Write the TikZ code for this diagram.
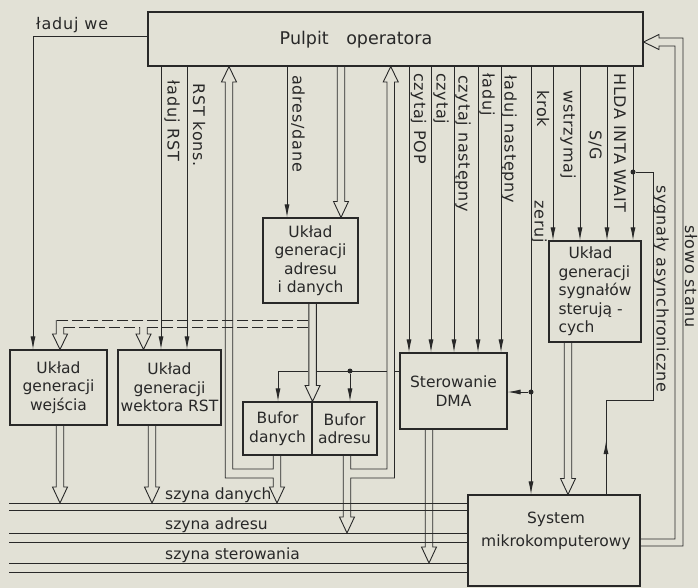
\documentclass[tikz,border=0pt]{standalone}
\usepackage{fontspec}
\setmainfont{DejaVu Sans}
\newfontfamily\spacedfont[LetterSpace=5]{DejaVu Sans}
\usetikzlibrary{arrows.meta,calc}

\definecolor{paper}{RGB}{226,225,214}
\definecolor{ink}{RGB}{40,40,40}

\tikzset{
  box/.style={draw=ink, line width=1.1pt, inner sep=0pt, align=center, text=ink,
    font=\fontsize{15.5}{18.5}\selectfont},
  wire/.style={draw=ink, line width=0.9pt},
  sig/.style={wire, -{Latex[length=13pt,width=5pt]}},
  bus/.style={draw=ink, line width=0.9pt, line join=miter},
  dbus/.style={bus, dash pattern=on 11pt off 4pt},
  lbl/.style={text=ink, inner sep=0pt, font=\fontsize{15.5}{18}\selectfont},
  vlbl/.style={text=ink, inner sep=0pt, rotate=-90, anchor=west,
    font=\spacedfont\fontsize{16}{18}\selectfont},
  dot/.style={circle, fill=ink, inner sep=0pt, minimum size=5pt},
}

% hollow bus arrow: start, tip, 1 = down / -1 = up
\newcommand\busv[3]{%
  \draw[bus] ($#1+(-3.75,0)$) -- ($#2+(-3.75,-16*#3)$) -- ++(-3.75,0) -- #2
    -- ++(7.5,-16*#3) -- ++(-3.75,0) -- ($#1+(3.75,0)$);}

\begin{document}
\begin{tikzpicture}[x=1pt, y=-1pt]
    \useasboundingbox (0,0) rectangle (698,588);
    \fill[paper] (0,0) rectangle (698,588);

    % blocks
    \node[box, minimum width=495pt, minimum height=54pt] (pulpit) at (395.5,39) {};
    \node[lbl, font=\fontsize{17.5}{20}\selectfont] (pulpittxt) at (356,40) {Pulpit\quad operatora};
    \node[box, minimum width=97pt, minimum height=75pt] (wej) at (58.5,387.5) {Układ\\generacji\\wejścia};
    \node[box, minimum width=103pt, minimum height=75pt] (rst) at (169.5,387.5) {Układ\\generacji\\wektora RST};
    \node[box, minimum width=95pt, minimum height=85pt] (gad) at (310.5,260.5) {Układ\\generacji\\adresu\\i danych};
    \node[box, minimum width=69pt, minimum height=53pt] (bufd) at (277.5,428.5) {Bufor\\danych};
    \node[box, minimum width=65pt, minimum height=53pt] (bufa) at (344.5,428.5) {Bufor\\adresu};
    \node[box, minimum width=107pt, minimum height=76pt] (dma) at (453.5,391) {Sterowanie\\DMA};
    \node[box, minimum width=92pt, minimum height=101pt, align=left] (gsy) at (595,291.5)
      {\hspace*{10pt}Układ\\generacji\\sygnałów\\sterują -\\cych};
    \node[box, minimum width=172pt, minimum height=91pt] (sys) at (554,540.5) {};
    \node[lbl, align=center, font=\fontsize{15.5}{23}\selectfont] (systxt) at (556,531) {System\\mikrokomputerowy};

    % buses
    \coordinate (busend) at (9,0);
    \foreach \y in {503,510,533,542,563,572}
      \draw[bus] (busend |- 0,\y) -- (sys.west |- 0,\y);
    \node[lbl, anchor=base west] (sdan) at (165,499) {szyna danych};
    \node[lbl, anchor=base west] (sadr) at (165,529) {szyna adresu};
    \node[lbl, anchor=base west] (sste) at (165,559) {szyna sterowania};

    % control lines from the desk
    \draw[sig] (pulpit.west |- 0,36) -| (wej.north -| 33,0);
    \node[lbl, anchor=base west, font=\spacedfont\fontsize{16}{18}\selectfont] (lwe) at (36,30) {ładuj we};
    \foreach \x in {161,187}
      \draw[sig] (pulpit.south -| \x,0) -- (rst.north -| \x,0);
    \draw[sig] (pulpit.south -| 287,0) -- (gad.north -| 287,0);
    \foreach \x in {409,431,454,478,501}
      \draw[sig] (pulpit.south -| \x,0) -- (dma.north -| \x,0);
    \foreach \x in {553,580,607,633}
      \draw[sig] (pulpit.south -| \x,0) -- (gsy.north -| \x,0);
    \draw[sig] (pulpit.south -| 531,0) -- (sys.north -| 531,0);
    \node[dot] (zdot) at (531,392) {};
    \draw[sig] (zdot) -- (dma.east |- zdot);

    \node[vlbl] (lrst) at (172,80) {ładuj RST};
    \node[vlbl] (lkons) at (199,83) {RST kons.};
    \node[vlbl] (ladr) at (298,75) {adres/dane};
    \node[vlbl] (lpop) at (418.5,73) {czytaj POP};
    \node[vlbl] (lczy) at (441,73) {czytaj};
    \node[vlbl] (lczn) at (463,75) {czytaj następny};
    \node[vlbl] (llad) at (487,73) {ładuj};
    \node[vlbl] (lladn) at (509,75) {ładuj następny};
    \node[vlbl] (lkrok) at (543,90) {krok};
    \node[vlbl] (lzer) at (539,200) {zeruj};
    \node[vlbl] (lwst) at (568,90) {wstrzymaj};
    \node[vlbl] (lsg) at (595,130) {S/G};
    \node[vlbl] (lhlda) at (620,73) {HLDA INTA WAIT};

    % DMA to the buffers
    \node[dot] (bdot) at (350,371) {};
    \draw[wire] (dma.west |- bdot) -- (394.5,371);
    \draw[wire] (387,371) -- (315.75,371);
    \draw[sig] (308.25,371) -| (bufd.north -| 278,0);
    \draw[sig] (bdot) -- (bufa.north -| bdot);

    % asynchronous signals
    \node[dot] (hdot) at (633,172) {};
    \draw[wire] (sys.north -| 606,0) |- (653,400) |- (hdot);
    \draw[sig] (606,470) -- (606,441);
    \node[vlbl] (lasyn) at (661,185) {sygnały asynchroniczne};

    % hollow bus arrows
    \busv{(wej.south -| 60,0)}{(60,503)}{1}
    \busv{(rst.south -| 152,0)}{(152,503)}{1}
    \busv{(pulpit.south -| 341,0)}{(gad.north -| 341,0)}{1}
    \busv{(dma.south -| 429,0)}{(429,563)}{1}
    \busv{(gsy.south -| 568,0)}{(sys.north -| 568,0)}{1}
    \busv{(gad.south -| bufd.north east)}{(bufd.north east)}{1}

    % desk <-> data buffer
    \draw[bus] (bufd.south -| 273.25,0) -- (273.25,469) -- (232.75,469) -- (232.75,82)
      -- (236.5,82) -- (pulpit.south -| 229,0) -- (221.5,82) -- (225.25,82) -- (225.25,478)
      -- (273.25,478) -- (273.25,487) -- (269.5,487) -- (277,503) -- (284.5,487)
      -- (280.75,487) -- (bufd.south -| 280.75,0);
    % desk <-> address buffer
    \draw[bus] (bufa.south -| 343.25,0) -- (343.25,517) -- (339.5,517) -- (347,533)
      -- (354.5,517) -- (350.75,517) -- (350.75,478) -- (394.5,478) -- (394.5,82)
      -- (398.25,82) -- (pulpit.south -| 390.75,0) -- (383.25,82) -- (387,82)
      -- (387,469) -- (350.75,469) -- (bufa.south -| 350.75,0);

    % dashed branch to the input and RST blocks
    \draw[dbus] (308.25,320) -- (56.25,320);
    \draw[bus] (56.25,320) -- (56.25,334) -- (52.5,334) -- (wej.north -| 60,0)
      -- (67.5,334) -- (63.75,334) -- (63.75,327);
    \draw[dbus] (63.75,327) -- (139.75,327);
    \draw[dbus] (147.25,327) -- (308.25,327);
    \draw[bus] (139.75,327) -- (139.75,334) -- (136,334) -- (rst.north -| 143.5,0)
      -- (151,334) -- (147.25,334) -- (147.25,327);

    % status word
    \draw[bus] (sys.east |- 0,539) -- (675,539) -- (675,46) -- (659,46) -- (659,49.5)
      -- (pulpit.east |- 0,42) -- (659,34.5) -- (659,38) -- (683,38) -- (683,546)
      -- (sys.east |- 0,546);
    \node[vlbl] (lstan) at (691,225) {słowo stanu};
\end{tikzpicture}
\end{document}
